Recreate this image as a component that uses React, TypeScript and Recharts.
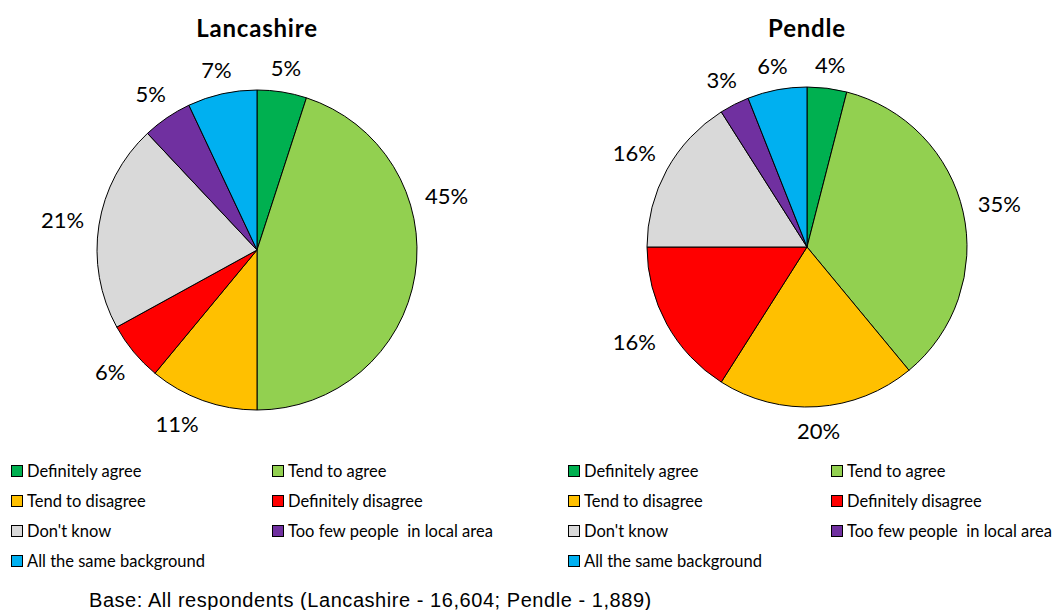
import { PieChart, Pie, Cell, Legend } from "recharts";

const categories = [
  "Definitely agree",
  "Tend to agree",
  "Tend to disagree",
  "Definitely disagree",
  "Don't know",
  "Too few people  in local area",
  "All the same background",
];
const colours = ["#00B050", "#92D050", "#FFC000", "#FF0000", "#D9D9D9", "#7030A0", "#00B0F0"];

const lancashireValues = [5, 45, 11, 6, 21, 5, 7];
const pendleValues = [4, 35, 20, 16, 16, 3, 6];

// label nudges (degrees) where Excel's best-fit moved a label off the slice middle
const lancashireLabelShift = [0, 25, -5, 0, 0, 0, 0];
const pendleLabelShift = [0, 0, 0, 0, 0, 0, 0];

const FONT = "Lato, 'Open Sans', sans-serif";

function makeLabel(shift: number[]) {
  return (props: any) => {
    const { cx, cy, midAngle, outerRadius, value, index } = props;
    const text = `${value}%`;
    const ang = ((midAngle + (shift[index] || 0)) * Math.PI) / 180;
    const w = text.length * 14;
    const h = 15;
    const d =
      outerRadius + 15 + (Math.abs(Math.cos(ang)) * w) / 2 + (Math.abs(Math.sin(ang)) * h) / 2;
    return (
      <text
        x={cx + d * Math.cos(ang)}
        y={cy - d * Math.sin(ang)}
        textAnchor="middle"
        dominantBaseline="central"
        fontSize={22}
        fontFamily={FONT}
        fill="#000"
      >
        {text}
      </text>
    );
  };
}

// legend keeps the series order (Recharts 3 would sort the payload by name)
function makeLegend(colWidth: number) {
  return () => (
    <div
      style={{
        display: "grid",
        gridTemplateColumns: `${colWidth}px ${colWidth}px`,
        gridAutoRows: "30px",
        fontFamily: FONT,
        fontSize: 16.5,
        color: "#000",
      }}
    >
      {categories.map((c, i) => (
        <div key={c} style={{ display: "flex", alignItems: "center", whiteSpace: "pre" }}>
          <span
            style={{
              width: 10,
              height: 10,
              background: colours[i],
              border: "1px solid #000",
              marginRight: 4,
              flex: "none",
            }}
          />
          {c}
        </div>
      ))}
    </div>
  );
}

function AreaPie({
  title,
  values,
  shift,
  left,
  cx,
  cy,
  legendLeft,
  colWidth,
}: {
  title: string;
  values: number[];
  shift: number[];
  left: number;
  cx: number;
  cy: number;
  legendLeft: number;
  colWidth: number;
}) {
  const data = values.map((v, i) => ({ name: categories[i], value: v }));
  return (
    <div style={{ position: "absolute", left, top: 0, width: 540, height: 580 }}>
      <div
        style={{
          position: "absolute",
          left: cx - 100,
          width: 200,
          top: 12,
          textAlign: "center",
          fontFamily: FONT,
          fontWeight: 700,
          fontSize: 24,
          letterSpacing: 0.8,
          lineHeight: "32px",
        }}
      >
        {title}
      </div>
      <PieChart width={540} height={580} margin={{ top: 0, right: 0, bottom: 0, left: 0 }}>
        <Pie
          data={data}
          dataKey="value"
          nameKey="name"
          cx={cx}
          cy={cy}
          outerRadius={160}
          startAngle={90}
          endAngle={-270}
          stroke="#000"
          strokeWidth={1}
          labelLine={false}
          label={makeLabel(shift)}
          isAnimationActive={false}
        >
          {data.map((d, i) => (
            <Cell key={d.name} fill={colours[i]} />
          ))}
        </Pie>
        <Legend
          content={makeLegend(colWidth)}
          wrapperStyle={{ position: "absolute", top: 456, left: legendLeft, width: colWidth * 2 }}
        />
      </PieChart>
    </div>
  );
}

export default function App() {
  return (
    <div
      style={{
        position: "absolute",
        left: 0,
        top: 0,
        width: 1059,
        height: 610,
        background: "#fff",
        overflow: "hidden",
      }}
    >
      <AreaPie
        title="Lancashire"
        values={lancashireValues}
        shift={lancashireLabelShift}
        left={0}
        cx={257}
        cy={250}
        legendLeft={11}
        colWidth={261}
      />
      <AreaPie
        title="Pendle"
        values={pendleValues}
        shift={pendleLabelShift}
        left={540}
        cx={267}
        cy={247}
        legendLeft={28}
        colWidth={263}
      />
      <div
        style={{
          position: "absolute",
          left: 89,
          top: 589,
          fontFamily: "'Liberation Sans', Arial, sans-serif",
          fontSize: 20,
          letterSpacing: 0.55,
          lineHeight: "22px",
          color: "#000",
          whiteSpace: "nowrap",
        }}
      >
        Base: All respondents (Lancashire - 16,604; Pendle - 1,889)
      </div>
    </div>
  );
}
